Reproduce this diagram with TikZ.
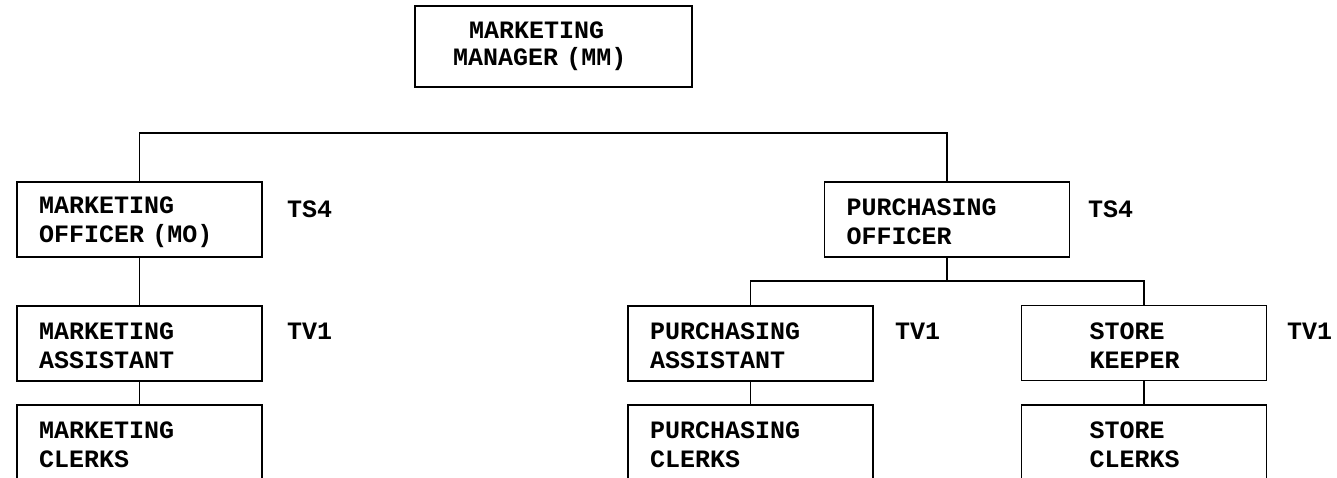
\documentclass[tikz,border=0pt]{standalone}
\usepackage{fontspec}
\usepackage{tikz}
\usetikzlibrary{positioning}
\newfontfamily\orgfont{Liberation Mono}

\begin{document}
\begin{tikzpicture}[
    x=1pt, y=-1pt,
    post/.style={
        draw, line width=1.2pt,
        minimum width=245pt, minimum height=75pt,
        inner xsep=22pt, inner ysep=0pt, text width=201pt,
        text height=22pt, align=left,
        font=\orgfont\bfseries\fontsize{25pt}{29pt}\selectfont
    },
    head/.style={post, line width=2.6pt, text height=,
        minimum width=277pt, minimum height=81pt,
        inner xsep=38pt, text width=201pt,
        font=\orgfont\bfseries\fontsize{25pt}{27pt}\selectfont},
    store/.style={inner xsep=68pt, text width=109pt},
    grade/.style={anchor=west, inner sep=0pt,
        font=\orgfont\bfseries\fontsize{25pt}{29pt}\selectfont},
    link/.style={line width=1.1pt}
]
\useasboundingbox (0,0) rectangle (1337,478);

% Head of department (not joined to the tree)
\node[head] (MM) at (553.5,46.5) {\hspace*{16pt}MARKETING\\MANAGER (MM)};

% Officers
\node[post] (MO) at (139.5,219.5) {MARKETING\\OFFICER (MO)};
\node[post] (PO) at (947,219.5)   {PURCHASING\\OFFICER};

% Assistants and store keeper
\node[post] (MA) at (139.5,343.5)        {MARKETING\\ASSISTANT};
\node[post] (PA) at (750.5,343.5)        {PURCHASING\\ASSISTANT};
\node[post, store] (SK) at (1144,343)    {STORE\\KEEPER};

% Clerks, cut off by the page edge
\node[post] (MC) at (139.5,442.5)        {MARKETING\\CLERKS};
\node[post] (PC) at (750.5,442.5)        {PURCHASING\\CLERKS};
\node[post, store] (SC) at (1144,442.5)  {STORE\\CLERKS};

% Grades
\node[grade] (gMO) at (287,209)  {TS4};
\node[grade] (gPO) at (1088,209) {TS4};
\node[grade] (gMA) at (287,331)  {TV1};
\node[grade] (gPA) at (895,331)  {TV1};
\node[grade] (gSK) at (1287,331) {TV1};

% Connectors
\coordinate (bar) at (0,133);
\coordinate (sub) at (0,281);
\draw[link] (MO.north) -- (MO.north |- bar) -| (PO.north);
\draw[link] (MO) -- (MA);
\draw[link] (MA) -- (MC);
\draw[link] (PO.south) -- (PO.south |- sub);
\draw[link] (PA.north) -- (PA.north |- sub) -| (SK.north);
\draw[link] (PA) -- (PC);
\draw[link] (SK) -- (SC);

\end{tikzpicture}
\end{document}
